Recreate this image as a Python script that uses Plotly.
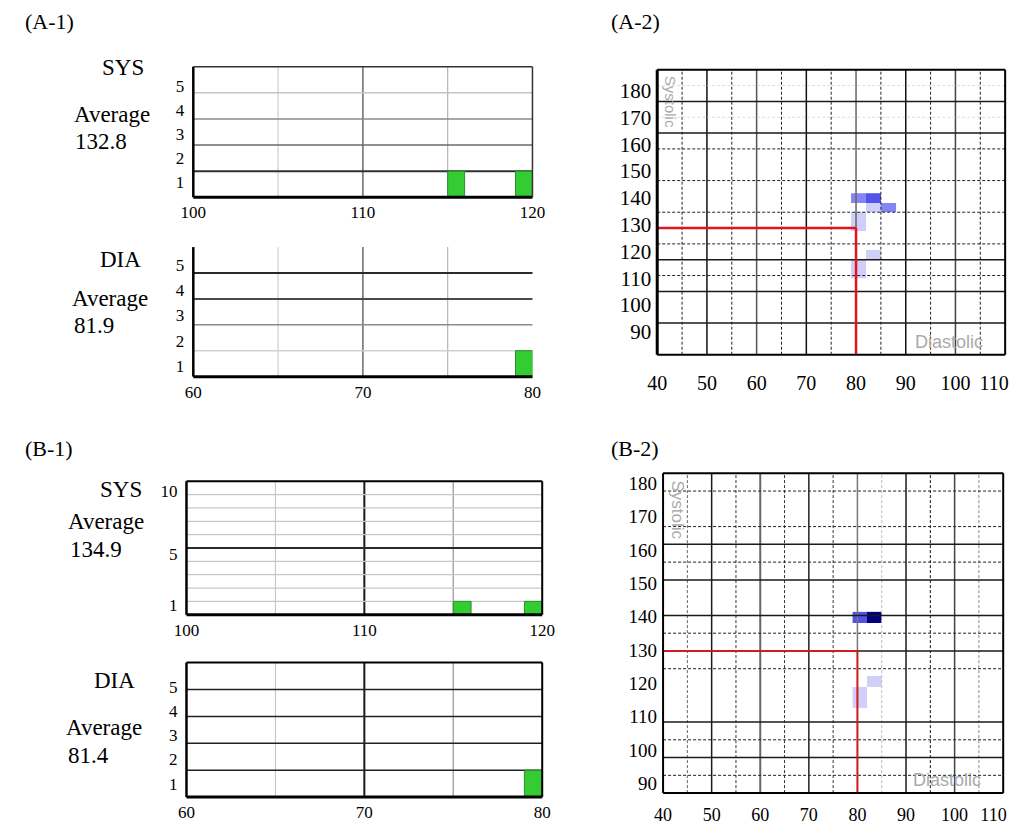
import plotly.graph_objects as go

W, H = 1024, 825

# ---------------- data ----------------
panel_labels = ["(A-1)", "(A-2)", "(B-1)", "(B-2)"]
avg_words = ["SYS", "DIA"]
A_sys_avg, A_dia_avg = "132.8", "81.9"
B_sys_avg, B_dia_avg = "134.9", "81.4"

# histogram bins (left edge) and counts
A_sys_bins, A_sys_counts = [115, 119], [1, 1]
A_dia_bins, A_dia_counts = [79], [1]
B_sys_bins, B_sys_counts = [115, 119], [1, 1]
B_dia_bins, B_dia_counts = [79], [1]
bin_width = 1

sys_hist_ticks = [100, 110, 120]
dia_hist_ticks = [60, 70, 80]
A_count_ticks = [1, 2, 3, 4, 5]
B_sys_count_ticks = [1, 5, 10]
B_dia_count_ticks = [1, 2, 3, 4, 5]

# 2-D map cells (diastolic lower edge, systolic lower edge, count)
A_cell_dia = [79, 82, 82, 85, 79, 79, 82, 79, 79]
A_cell_sys = [138, 138, 135, 135, 132, 129, 120, 117, 114]
A_cell_n = [2, 3, 1, 2, 1, 1, 1, 1, 1]
B_cell_dia = [79, 82, 82, 79, 79]
B_cell_sys = [138, 138, 120, 117, 114]
B_cell_n = [3, 6, 1, 1, 1]
cell_step = 3

map_dia_ticks = [40, 50, 60, 70, 80, 90, 100, 110]
map_sys_ticks = [90, 100, 110, 120, 130, 140, 150, 160, 170, 180]
sys_limit, dia_limit = 130, 80

# ---------------- layout helpers ----------------
SERIF = "Liberation Serif"
SANS = "Liberation Sans"

boxes = {
    1: ((185, 533), (67, 198)),    # A-1 SYS
    2: ((185, 533), (248, 378)),   # A-1 DIA
    3: ((661, 1018), (70, 356)),   # A-2
    4: ((178, 543), (483, 617)),   # B-1 SYS
    5: ((178, 543), (665, 800)),   # B-1 DIA
    6: ((667, 1016), (475, 796)),  # B-2
}


def ax(i, kind):
    return kind if i == 1 else f"{kind}{i}"


def dom(i):
    (x0, x1), (y0, y1) = boxes[i]
    return [x0 / W, x1 / W], [1 - y1 / H, 1 - y0 / H]


fig = go.Figure()
shapes = []
annotations = []


def hline(i, y, color, width, dash="solid", x0=0, x1=1, layer="above", xdata=False):
    shapes.append(dict(type="line", xref=ax(i, "x") if xdata else ax(i, "x") + " domain",
                       yref=ax(i, "y"), x0=x0, x1=x1, y0=y, y1=y, layer=layer,
                       line=dict(color=color, width=width, dash=dash)))


def vline(i, x, color, width, dash="solid", y0=0, y1=1, layer="above", ydata=False):
    shapes.append(dict(type="line", xref=ax(i, "x"),
                       yref=ax(i, "y") if ydata else ax(i, "y") + " domain",
                       x0=x, x1=x, y0=y0, y1=y1, layer=layer,
                       line=dict(color=color, width=width, dash=dash)))


def border(i, side, color, width, layer="above"):
    xr, yr = ax(i, "x") + " domain", ax(i, "y") + " domain"
    c = {"left": (0, 0, 0, 1), "right": (1, 1, 0, 1),
         "top": (0, 1, 1, 1), "bottom": (0, 1, 0, 0)}[side]
    shapes.append(dict(type="line", xref=xr, yref=yr, x0=c[0], x1=c[1], y0=c[2], y1=c[3],
                       layer=layer, line=dict(color=color, width=width)))


def text(s, x, y, size, anchor="center", family=SERIF, color="black", angle=0):
    annotations.append(dict(text=s, x=x / W, y=1 - y / H, xref="paper", yref="paper",
                            showarrow=False, xanchor=anchor, yanchor="middle",
                            textangle=angle, font=dict(family=family, size=size, color=color)))


layout_axes = {}

# ---------------- histogram panels ----------------
hist_specs = [
    (1, A_sys_bins, A_sys_counts, sys_hist_ticks, A_count_ticks, 5, (0.92, -0.35)),
    (2, A_dia_bins, A_dia_counts, dia_hist_ticks, A_count_ticks, 5, (0.97, -0.55)),
    (4, B_sys_bins, B_sys_counts, sys_hist_ticks, B_sys_count_ticks, 10, (0.955, -0.25)),
    (5, B_dia_bins, B_dia_counts, dia_hist_ticks, B_dia_count_ticks, 5, (0.9, -0.4)),
]
for i, bins, counts, xt, yt, ymax, (sc, sh) in hist_specs:
    fig.add_trace(go.Bar(x=bins, y=counts, width=bin_width, offset=0,
                         marker=dict(color="#33cc33", line=dict(color="#2a8f2a", width=1)),
                         xaxis=ax(i, "x"), yaxis=ax(i, "y"), showlegend=False,
                         hoverinfo="skip"))
    xd, yd = dom(i)
    xkey = "xaxis" if i == 1 else f"xaxis{i}"
    ykey = "yaxis" if i == 1 else f"yaxis{i}"
    layout_axes[xkey] = dict(domain=xd, range=[xt[0], xt[-1]], anchor=ax(i, "y"),
                             tickvals=xt, ticktext=[str(v) for v in xt], showgrid=False,
                             zeroline=False, showline=False, ticks="", fixedrange=True,
                             ticklabelstandoff=3,
                             tickfont=dict(family=SERIF, size=17, color="black"))
    layout_axes[ykey] = dict(domain=yd, range=[0, ymax], anchor=ax(i, "x"),
                             tickvals=[v * sc + sh for v in yt], ticktext=[str(v) for v in yt],
                             showgrid=False, zeroline=False, showline=False, ticks="",
                             fixedrange=True, ticklabelstandoff=8,
                             tickfont=dict(family=SERIF, size=17, color="black"))
    x0, x1 = xt[0], xt[-1]
    q = (x1 - x0) / 4
    vcols = ["#c4c4c4", "#6a6a6a", "#b4b4b4"] if i in (1, 2) else ["#c0c0c0", "#1a1a1a", "#a8a8a8"]
    vw = [1, 1.5, 1.2] if i in (1, 2) else [1, 2, 1.5]
    for k in range(3):
        vline(i, x0 + q * (k + 1), vcols[k], vw[k], layer="below")

# horizontal grid lines of histogram panels
for y, c, w in zip([1, 2, 3, 4], ["#303030", "#6a6a6a", "#8a8a8a", "#c4c4c4"], [2, 1.5, 1.5, 1.5]):
    hline(1, y, c, w, layer="below")
for y, c, w in zip([1, 2, 3, 4], ["#cfcfcf", "#8c8c8c", "#4a4a4a", "#2a2a2a"], [1.5, 1.5, 2, 2]):
    hline(2, y, c, w, layer="below")
for y in range(1, 10):
    hline(4, y, "#2a2a2a" if y == 5 else "#c8c8c8", 2 if y == 5 else 1.2, layer="below")
for y in [1, 2, 3, 4]:
    hline(5, y, "#222222", 1.5, layer="below")

# borders
border(1, "left", "black", 2.5); border(1, "bottom", "black", 3)
border(1, "top", "#333333", 1.5); border(1, "right", "#333333", 1.5)
border(2, "left", "black", 2.5); border(2, "bottom", "black", 3)
for i in (4, 5):
    border(i, "left", "black", 2.5); border(i, "bottom", "black", 3)
    border(i, "top", "black", 2); border(i, "right", "black", 2)


# ---------------- 2-D map panels ----------------
def grid(dias, syss, ns, step):
    xs = list(range(min(dias), max(dias) + step + 1, step))
    ys = list(range(min(syss), max(syss) + step + 1, step))
    z = [[None] * (len(xs) - 1) for _ in range(len(ys) - 1)]
    for d, s, n in zip(dias, syss, ns):
        z[(s - ys[0]) // step][(d - xs[0]) // step] = n
    return xs, ys, z


cscale = [[0, "#cfcffa"], [0.2, "#8484f4"], [0.4, "#5353ec"], [0.7, "#2020b0"], [1, "#00007c"]]
map_specs = [
    (3, A_cell_dia, A_cell_sys, A_cell_n, (173.4, 0.8465), 107.8, 14, 21),
    (6, B_cell_dia, B_cell_sys, B_cell_n, (177.2, 0.939), 108.0, 9, 19),
]
for i, cd, cs, cn, (ltop, lstep), last_x, xstand, fsize in map_specs:
    xs, ys, z = grid(cd, cs, cn, cell_step)
    fig.add_trace(go.Heatmap(x=xs, y=ys, z=z, colorscale=cscale, zmin=1, zmax=6,
                             showscale=False, hoverinfo="skip",
                             xaxis=ax(i, "x"), yaxis=ax(i, "y")))
    xd, yd = dom(i)
    xkey, ykey = f"xaxis{i}", f"yaxis{i}"
    layout_axes[xkey] = dict(domain=xd, range=[map_dia_ticks[0], map_dia_ticks[-1]],
                             anchor=ax(i, "y"),
                             tickvals=[min(v, last_x) for v in map_dia_ticks],
                             ticktext=[str(v) for v in map_dia_ticks],
                             showgrid=False, zeroline=False, showline=False, ticks="",
                             fixedrange=True, ticklabelstandoff=xstand,
                             tickfont=dict(family=SERIF, size=fsize - 1, color="black"))
    top = map_sys_ticks[-1]
    layout_axes[ykey] = dict(domain=yd, range=[map_sys_ticks[0], top], anchor=ax(i, "x"),
                             tickvals=[ltop - lstep * (top - v) for v in map_sys_ticks],
                             ticktext=[str(v) for v in map_sys_ticks],
                             showgrid=False, zeroline=False, showline=False, ticks="",
                             fixedrange=True, ticklabelstandoff=5,
                             tickfont=dict(family=SERIF, size=fsize, color="black"))

# A-2 grid
DOT = "3px,2px"
for x, c in zip([50, 60, 70, 80, 90, 100], ["#111111", "#555555", "#111111", "#666666", "#111111", "#444444"]):
    vline(3, x, c, 1.5)
for x in [45, 55, 65, 75, 85, 95, 105]:
    vline(3, x, "#222222", 1, DOT)
for y in [170, 160, 120, 110, 100]:
    hline(3, y, "#1a1a1a", 1.5)
for y in [155, 145, 135, 125, 115]:
    hline(3, y, "#222222", 1, DOT)
for y in [175, 165]:
    hline(3, y, "#dddddd", 1, DOT)

# B-2 grid
for x, c, w in zip([50, 60, 70, 80, 90, 100],
                   ["#1a1a1a", "#666666", "#222222", "#777777", "#1a1a1a", "#444444"],
                   [1.5, 2, 1.5, 1.5, 1.5, 1.5]):
    vline(6, x, c, w)
for x, c in zip([45, 55, 65, 75, 85, 95, 105],
                ["#666666", "#333333", "#333333", "#333333", "#bbbbbb", "#111111", "#888888"]):
    vline(6, x, c, 1, DOT)
for y in [160, 150, 140, 130, 110, 100]:
    hline(6, y, "#1a1a1a", 1.5)
for y in [175, 165, 155, 135, 125, 105, 95]:
    hline(6, y, "#222222", 1, DOT)

# limit lines (red)
for i, w in ((3, 2.5), (6, 1.8)):
    hline(i, sys_limit, "#e3141c", w, x0=map_dia_ticks[0], x1=dia_limit, xdata=True)
    vline(i, dia_limit, "#e3141c", w, y0=map_sys_ticks[0], y1=sys_limit, ydata=True)

# borders of map panels
border(3, "left", "black", 3); border(3, "bottom", "black", 2)
border(3, "top", "black", 2); border(3, "right", "black", 2)
border(6, "left", "black", 2); border(6, "bottom", "black", 2)
border(6, "top", "black", 2); border(6, "right", "black", 2)

# ---------------- texts ----------------
for s, (x, y) in zip(panel_labels, [(10, 22), (612, 22), (10, 450), (612, 450)]):
    text(s, x, y, 22, anchor="left")

text(avg_words[0], 113, 68, 23); text("Average", 102, 115, 23); text(A_sys_avg, 62, 142, 23, "left")
text(avg_words[1], 110, 260, 23); text("Average", 100, 300, 23); text(A_dia_avg, 61, 327, 23, "left")
text(avg_words[0], 111, 491, 23); text("Average", 95, 523, 23); text(B_sys_avg, 56, 552, 23, "left")
text(avg_words[1], 104, 683, 23); text("Average", 93, 730, 23); text(B_dia_avg, 54, 758, 23, "left")

text("Systolic", 675, 102, 15, family=SANS, color="#aaaaaa", angle=90)
text("Diastolic", 960, 343, 18, family=SANS, color="#aaaaaa")
text("Systolic", 682, 512, 17, family=SANS, color="#aaaaaa", angle=90)
text("Diastolic", 958, 783, 18, family=SANS, color="#aaaaaa")

fig.update_layout(width=W, height=H, autosize=False,
                  margin=dict(l=0, r=0, t=0, b=0),
                  paper_bgcolor="white", plot_bgcolor="rgba(0,0,0,0)",
                  shapes=shapes, annotations=annotations, **layout_axes)
fig.write_html("out.html", config={"displayModeBar": False, "responsive": False},
               post_script="document.body.style.margin='0';"
                           "document.documentElement.style.overflow='hidden';"
                           "document.body.style.overflow='hidden';")
